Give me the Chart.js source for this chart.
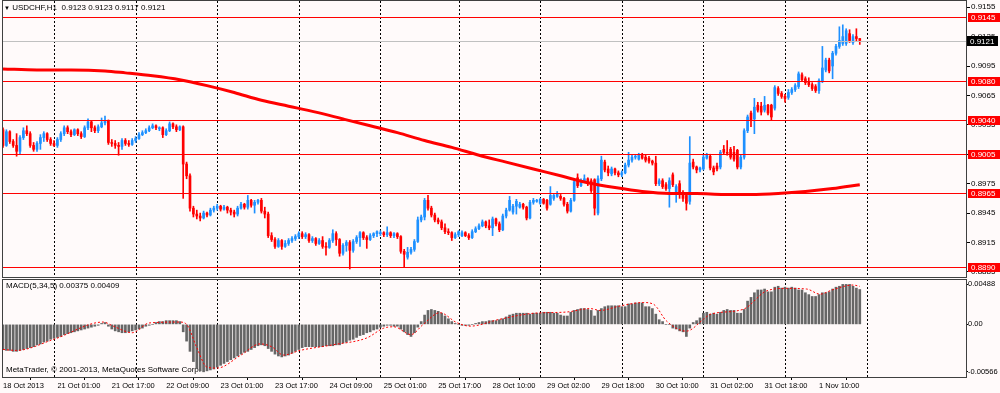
<!DOCTYPE html>
<html>
<head>
<meta charset="utf-8">
<script src="https://cdn.jsdelivr.net/npm/chart.js@4.4.0/dist/chart.umd.min.js"></script>
<style>
html, body { margin: 0; padding: 0; background: #FFFAFA; }
#wrap { position: relative; width: 1000px; height: 393px; overflow: hidden;
        font-family: 'Liberation Sans', Arial, sans-serif; }
canvas { position: absolute; left: 0; }
#priceCanvas { top: 0; }
#macdCanvas { top: 278px; }
.lbl { position: absolute; font-size: 8px; line-height: 10px; color: #000; white-space: pre; }
</style>
</head>
<body>
<div id="wrap">
  <canvas id="priceCanvas" width="1000" height="278"></canvas>
  <canvas id="macdCanvas" width="1000" height="115"></canvas>
  <div class="lbl" id="hdr" style="left:4px;top:3px"></div>
  <div class="lbl" id="macdHdr" style="left:6px;top:281px"></div>
  <div class="lbl" style="left:6px;top:365px">MetaTrader, © 2001-2013, MetaQuotes Software Corp.</div>
</div>
<script>
// prices in pips above 0.8800, one entry per H1 bar
const opens = [
  230,214,228,218,214,208,222,229,226,214, 210,216,222,226,220,216,214,220,226,232,
  228,225,230,226,223,232,238,232,229,233, 237,239,217,216,214,213,219,216,215,219,
  221,225,227,229,232,234,231,232,225,229, 236,233,230,233,195,183,150,144,142,140,
  145,143,148,150,152,149,151,148,146,144, 150,154,151,158,153,156,158,147,144,122,
  118,111,117,111,114,117,119,121,124,121, 123,117,119,114,117,111,110,117,124,118,
  104,112,115,107,116,120,125,120,118,122, 124,124,125,123,125,122,124,121,106,100,
  105,108,116,138,141,158,150,143,138,136, 130,126,125,120,123,122,125,122,120,126,
  129,132,136,132,130,139,134,128,142,148, 146,152,151,154,151,140,156,157,155,159,
  158,154,160,162,162,160,154,147,158,181, 173,178,180,178,179,145,180,197,190,185,
  190,186,184,186,194,199,202,200,204,202, 201,198,196,175,178,174,170,184,166,175,
  166,163,157,197,192,189,190,201,203,191, 193,192,210,207,210,207,209,192,202,229,
  247,241,255,254,250,255,255,252,272,267, 264,263,268,271,274,286,282,279,276,274,
  270,280,291,301,295,308,315,318,318,328, 319,325,323
];
const highs = [
  232,230,229,220,226,224,232,234,228,217, 218,225,228,227,222,219,222,228,234,234,
  230,231,231,228,234,241,239,234,235,242, 244,240,220,219,217,221,221,219,221,223,
  227,229,231,234,236,235,233,233,231,238, 237,235,234,234,197,185,152,148,145,147,
  146,150,152,154,153,153,152,150,148,152, 156,155,163,159,158,159,160,151,146,125,
  120,119,118,117,119,121,123,126,126,125, 124,121,120,119,121,115,119,128,126,119,
  114,117,117,118,122,126,126,122,124,125, 127,127,126,131,126,125,125,122,108,110,
  110,118,141,143,160,163,152,145,140,138, 134,129,126,125,127,127,126,124,128,131,
  134,138,137,138,141,140,136,144,150,162, 154,159,156,155,152,158,160,159,160,160,
  159,172,164,167,164,161,156,160,179,185, 180,184,181,180,180,183,203,199,193,192,
  191,188,188,196,207,205,204,206,206,204, 203,199,203,180,180,176,181,186,174,178,
  168,165,223,200,193,192,204,206,205,193, 196,209,214,219,212,213,210,204,231,245,
  249,262,258,258,264,256,256,275,274,269, 266,271,273,277,289,288,284,283,278,276,
  282,315,303,303,310,317,335,337,333,332, 327,333,323
];
const lows = [
  212,213,216,212,203,205,220,224,212,208, 208,210,218,218,214,213,212,218,224,226,
  223,224,224,221,222,230,228,227,227,232, 235,215,213,211,204,210,214,213,214,217,
  220,224,226,228,231,230,229,222,224,228, 231,228,229,160,180,147,141,139,137,139,
  141,142,146,148,147,148,145,143,141,142, 149,149,149,151,145,154,145,140,120,116,
  109,110,108,110,112,115,117,119,119,119, 115,115,112,113,109,102,109,115,112,101,
  102,106,88,105,114,111,118,109,117,120, 121,122,121,121,120,120,119,104,90,98,
  103,106,115,136,138,148,141,136,134,128, 124,123,117,119,121,121,121,118,119,125,
  128,131,130,128,122,132,126,127,140,147, 144,144,150,149,138,139,154,156,154,154,
  148,153,158,161,158,152,145,146,157,171, 172,176,173,166,143,143,178,187,183,183,
  184,182,182,185,192,197,200,199,200,197, 196,194,173,173,170,168,151,172,156,160,
  157,148,154,190,186,187,189,200,189,184, 188,190,205,204,200,198,190,190,200,227,
  233,226,248,245,248,245,240,250,265,262, 258,261,266,269,272,279,276,274,270,268,
  267,278,289,288,282,306,313,316,316,319, 317,320,317
];
const closes = [
  214,228,218,214,208,222,229,226,214,210, 216,222,226,220,216,214,220,226,232,228,
  225,230,226,223,232,238,232,229,233,237, 239,217,216,214,213,219,216,215,219,221,
  225,227,229,232,234,232,232,225,229,236, 233,230,233,195,183,150,144,142,140,145,
  143,148,150,152,149,151,148,146,144,150, 154,151,158,153,156,158,147,144,122,118,
  111,117,111,114,117,119,121,124,121,123, 117,119,114,117,111,110,117,124,118,104,
  112,115,107,116,120,125,120,118,122,124, 126,125,123,125,122,124,121,106,103,105,
  108,116,138,141,158,150,143,138,136,130, 126,125,120,123,126,125,122,120,126,129,
  132,136,132,130,139,134,128,142,148,158, 152,157,154,151,140,156,158,158,159,155,
  150,163,163,165,160,154,147,158,177,173, 178,180,175,168,150,180,199,189,186,190,
  186,184,186,194,199,202,203,204,201,199, 198,196,175,178,172,170,178,174,172,164,
  160,155,196,192,189,191,202,204,191,187, 190,207,207,206,202,200,192,202,229,243,
  240,253,250,248,255,247,243,273,267,264, 262,268,271,275,287,281,278,276,272,270,
  280,293,301,290,308,315,321,325,331,321, 325,323,321
];

// moving average, read at a few bars
const maBars = [0,10,20,30,36,44,52,60,68,76,84,92,100,108,116,124,132,140,148,156,164,172,180,188,196,204,212,220,228,236,244,252];
const maPips = [292,291,291,290,288,285,281,275,268,260,254,248,241,234,227,219,212,204,197,190,183,176,171,167,165,165,164,164,165,167,170,174];

// horizontal levels and price axis ticks
const levels = [0.9145, 0.9080, 0.9040, 0.9005, 0.8965, 0.8890];
const priceTicks = [0.9155, 0.9125, 0.9095, 0.9065, 0.9035, 0.9005, 0.8975, 0.8945, 0.8915, 0.8885];

// MACD(5,34,5) histogram, units of 0.0001
const macdMain = [
  -27,-28,-28,-29,-29,-28,-27,-26,-25,-24, -22,-21,-19,-18,-16,-15,-14,-13,-11,-10,
  -9,-8,-7,-6,-5,-4,-3,-2,-1,1, 2,-2,-5,-7,-8,-9,-9,-8,-7,-6,
  -5,-4,-2,-1,0,2,3,3,4,4, 4,4,3,-8,-18,-29,-40,-47,-50,-51,
  -50,-49,-48,-46,-44,-42,-40,-38,-36,-34, -32,-30,-29,-27,-25,-23,-22,-23,-26,-29,
  -32,-34,-35,-34,-33,-31,-29,-27,-25,-24, -24,-24,-24,-24,-24,-23,-23,-23,-22,-22,
  -20,-19,-17,-16,-14,-12,-11,-9,-8,-6, -5,-3,-2,-1,-1,-2,-2,-5,-8,-11,
  -13,-9,-3,3,10,15,16,15,14,12, 9,6,3,1,0,-1,-1,-1,0,1,
  2,3,3,4,4,4,5,6,8,10, 11,12,12,12,12,11,12,12,12,13,
  13,13,12,12,10,9,9,13,15,16, 17,17,16,15,9,15,17,19,20,20,
  20,20,19,19,22,22,23,23,23,19, 19,17,11,5,3,0,0,-4,-5,-7,
  -8,-13,-4,2,4,7,12,13,11,12, 11,13,15,16,15,15,12,12,16,25,
  29,34,37,37,38,35,35,40,41,39, 40,39,40,39,37,37,34,32,30,30,
  32,34,34,35,38,40,41,43,43,43, 41,39,37.5
];
const signalBars = [0,4,15,29.5,32.5,38,43,52,54,57,60,63,70,75.6,79,82.5,87.4,97,107,112,115,120,123.6,128.5,133.4,137.4,146,155.9,165.8,172.7,175.6,181.5,188.3,191.3,195.2,201,206,208,217.7,224.6,230.5,236.4,240.3,244,250,252];
const signalVals = [-27,-28,-16,2.5,-2,-9,1.5,2.5,0,-25,-46,-47,-33,-21,-24,-33,-28,-22,-14.6,-4,-2.6,-11,0,12.6,2,-1.9,5.4,11.9,13.3,17,15,19.8,23.5,21.7,3.5,-7.3,5.4,10.8,16.2,36,38.7,38,32.5,37.2,42.3,40.9];
const macdMax = 0.00488, macdMin = -0.00566;

const xLabelBars = [0,16,32,48,64,80,96,112,128,144,160,176,192,208,224,240];
const xLabels = ['18 Oct 2013','21 Oct 01:00','21 Oct 17:00','22 Oct 09:00','23 Oct 01:00','23 Oct 17:00',
  '24 Oct 09:00','25 Oct 01:00','25 Oct 17:00','28 Oct 10:00','29 Oct 02:00','29 Oct 18:00',
  '30 Oct 10:00','31 Oct 02:00','31 Oct 18:00','1 Nov 10:00'];
const gridBars = [15,39,63,87,111,134,158,182,206,230,254];

const FONT = "'Liberation Sans', Arial, sans-serif";
const X_MIN = -0.294, X_MAX = 283.24;
const UP = '#1E90FF', DOWN = '#FF0000';

const toPrice = v => 0.88 + v / 10000;
const last = closes.length - 1;
const bid = toPrice(closes[last]);

Chart.defaults.font.family = FONT;
Chart.defaults.font.size = 8;
Chart.defaults.color = '#000';

document.getElementById('hdr').innerHTML =
  '<span style="font-size:6px">&#9660;</span> USDCHF,H1  ' +
  [opens[last], highs[last], lows[last], closes[last]].map(v => toPrice(v).toFixed(4)).join(' ');
document.getElementById('macdHdr').textContent =
  'MACD(5,34,5) ' + (macdMain[last] / 10000).toFixed(5) + ' ' + (signalVals[signalVals.length - 1] / 10000).toFixed(5);

function dottedGrid(chart) {
  const { ctx, chartArea: a, scales: { x } } = chart;
  ctx.save();
  ctx.strokeStyle = '#000';
  ctx.lineWidth = 1;
  ctx.setLineDash([2, 2]);
  gridBars.forEach(b => {
    const px = Math.round(x.getPixelForValue(b)) + 0.5;
    ctx.beginPath(); ctx.moveTo(px, a.top); ctx.lineTo(px, a.bottom); ctx.stroke();
  });
  ctx.restore();
}

function frame(chart, top) {
  const { ctx, chartArea: a } = chart;
  ctx.save();
  ctx.strokeStyle = '#404040';
  ctx.lineWidth = 1;
  ctx.strokeRect(Math.round(a.left) + 0.5, top + 0.5, Math.round(a.right - a.left), Math.round(a.bottom) - top);
  ctx.restore();
}

const priceDecor = {
  id: 'priceDecor',
  beforeDatasetsDraw: chart => dottedGrid(chart),
  afterDatasetsDraw(chart) {
    const { ctx, chartArea: a, scales: { y } } = chart;
    ctx.save();
    ctx.lineWidth = 1;
    ctx.strokeStyle = '#C0C0C0';
    let py = Math.round(y.getPixelForValue(bid)) + 0.5;
    ctx.beginPath(); ctx.moveTo(a.left, py); ctx.lineTo(a.right, py); ctx.stroke();
    ctx.strokeStyle = '#FF0000';
    levels.forEach(l => {
      py = Math.round(y.getPixelForValue(l)) + 0.5;
      ctx.beginPath(); ctx.moveTo(a.left, py); ctx.lineTo(a.right, py); ctx.stroke();
    });
    ctx.restore();
  },
  afterDraw(chart) {
    const { ctx, scales: { y } } = chart;
    frame(chart, 0);
    ctx.save();
    ctx.font = '8px ' + FONT;
    ctx.textBaseline = 'middle';
    levels.forEach(l => {
      const py = Math.round(y.getPixelForValue(l));
      ctx.fillStyle = '#FF0000';
      ctx.fillRect(968, py - 4, 32, 9);
      ctx.fillStyle = '#FFFFFF';
      ctx.fillText(l.toFixed(4), 971, py + 0.5);
    });
    const by = Math.round(y.getPixelForValue(bid));
    ctx.fillStyle = '#000000';
    ctx.fillRect(967, by - 5, 31, 10);
    ctx.fillStyle = '#FFFFFF';
    ctx.fillText(bid.toFixed(4), 970, by + 0.5);
    ctx.restore();
  }
};

const macdDecor = {
  id: 'macdDecor',
  beforeDatasetsDraw: chart => dottedGrid(chart),
  afterDraw: chart => frame(chart, Math.round(chart.chartArea.top))
};

const bars = closes.map((_, i) => i);
const isUp = i => closes[i] >= opens[i];

new Chart(document.getElementById('priceCanvas'), {
  type: 'bar',
  data: {
    datasets: [
      {
        type: 'line', label: 'MA', order: 1,
        data: maBars.map((b, k) => ({ x: b, y: toPrice(maPips[k]) })),
        borderColor: '#FF0000', borderWidth: 3, pointRadius: 0,
        cubicInterpolationMode: 'monotone'
      },
      {
        label: 'bodies', order: 2, grouped: false, barThickness: 2,
        data: bars.map(i => ({ x: i, y: [toPrice(opens[i]), toPrice(closes[i])] })),
        backgroundColor: bars.map(i => isUp(i) ? UP : DOWN)
      },
      {
        label: 'wicks', order: 3, grouped: false, barThickness: 1,
        data: bars.map(i => ({ x: i, y: [toPrice(lows[i]), toPrice(highs[i])] })),
        backgroundColor: bars.map(i => isUp(i) ? UP : DOWN)
      }
    ]
  },
  options: {
    responsive: false, animation: false, devicePixelRatio: 1,
    layout: { padding: { left: 2, top: 1, right: 0, bottom: 1 } },
    plugins: { legend: { display: false }, tooltip: { enabled: false } },
    scales: {
      x: { type: 'linear', min: X_MIN, max: X_MAX, offset: false, display: false },
      y: {
        position: 'right', min: 0.88798, max: 0.91613,
        afterFit: s => { s.width = 34; s.paddingTop = 0; s.paddingBottom = 0; },
        afterBuildTicks: s => { s.ticks = priceTicks.map(v => ({ value: v })); },
        ticks: { callback: v => v.toFixed(4), padding: 1, color: '#000' },
        grid: { drawOnChartArea: false, drawTicks: true, tickLength: 4, color: '#000' },
        border: { display: false }
      }
    }
  },
  plugins: [priceDecor]
});

const macdTickVals = [macdMax - 0.00054, 0, macdMin + 0.00054];
const macdTickText = [macdMax.toFixed(5), '0.00', macdMin.toFixed(5)];

new Chart(document.getElementById('macdCanvas'), {
  type: 'bar',
  data: {
    datasets: [
      {
        type: 'line', label: 'Signal', order: 1,
        data: signalBars.map((b, k) => ({ x: b, y: signalVals[k] / 10000 })),
        borderColor: '#FF0000', borderWidth: 1, borderDash: [2, 2], pointRadius: 0,
        cubicInterpolationMode: 'monotone'
      },
      {
        label: 'MACD', order: 2, barThickness: 2,
        data: bars.map(i => ({ x: i, y: macdMain[i] / 10000 })),
        backgroundColor: '#666666'
      }
    ]
  },
  options: {
    responsive: false, animation: false, devicePixelRatio: 1,
    layout: { padding: { left: 2, top: 1, right: 0, bottom: 0 } },
    plugins: { legend: { display: false }, tooltip: { enabled: false } },
    scales: {
      x: {
        type: 'linear', min: X_MIN, max: X_MAX, offset: false,
        afterFit: s => { s.height = 16; s.paddingLeft = 0; s.paddingRight = 0; },
        afterBuildTicks: s => { s.ticks = xLabelBars.map(v => ({ value: v })); },
        ticks: { callback: (v, i) => xLabels[i], align: 'start', autoSkip: false, maxRotation: 0,
                 padding: 1, color: '#000', font: { size: 7.5 } },
        grid: { drawOnChartArea: false, drawTicks: true, tickLength: 3, color: '#000' },
        border: { display: false }
      },
      y: {
        position: 'right', min: macdMin, max: macdMax,
        afterFit: s => { s.width = 34; s.paddingTop = 0; s.paddingBottom = 0; },
        afterBuildTicks: s => { s.ticks = macdTickVals.map(v => ({ value: v })); },
        ticks: { callback: (v, i) => macdTickText[i], padding: 0, color: '#000', font: { size: 7.5 } },
        grid: { drawOnChartArea: false, drawTicks: true, tickLength: 2, color: '#000' },
        border: { display: false }
      }
    }
  },
  plugins: [macdDecor]
});
</script>
</body>
</html>
